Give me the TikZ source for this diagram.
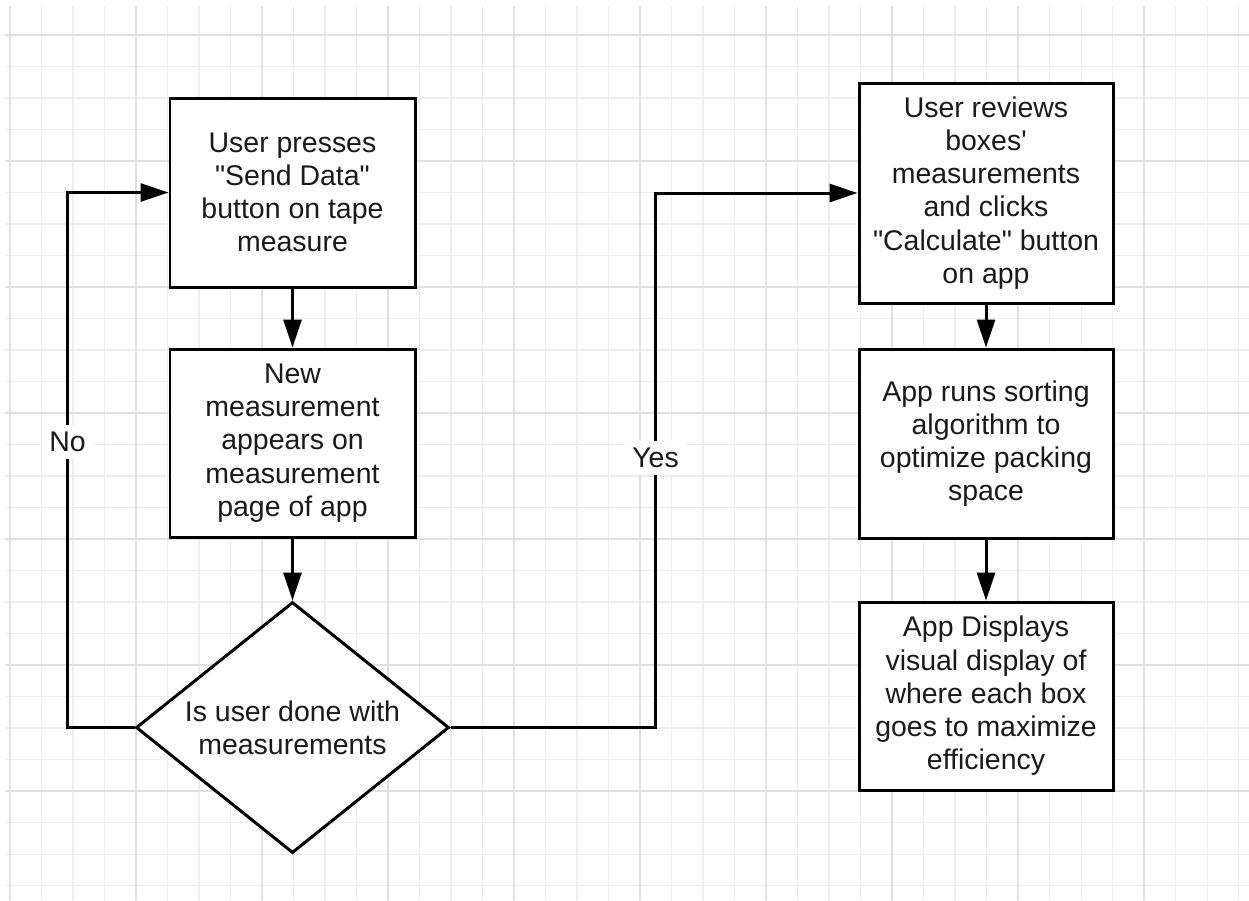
\documentclass[tikz,border=0pt]{standalone}
\usepackage{fontspec}
\setmainfont{Liberation Sans}[Ligatures=TeXOff]
\usetikzlibrary{arrows.meta, shapes.geometric, positioning}

\definecolor{gridminor}{HTML}{EDEDED}
\definecolor{gridmajor}{HTML}{E0E0E0}
\definecolor{ink}{HTML}{1A1A1A}

\begin{document}
\begin{tikzpicture}

\tikzset{process/.style = {shape=rectangle, draw, line width=1.7pt, fill=white, align=center, text=ink, font=\fontsize{16.2}{18.9}\selectfont}}
\tikzset{decision/.style = {shape=diamond, draw, line width=1.7pt, fill=white, aspect=1.25, inner sep=0pt, align=center, text=ink, font=\fontsize{16.2}{18.9}\selectfont}}
\tikzset{edge/.style = {->, > = {Triangle[length=5.6mm, width=3.6mm]}, line width=1.7pt}}
\tikzset{answer/.style = {fill=white, inner sep=4pt, text=ink, font=\fontsize{16.2}{18.9}\selectfont}}

\useasboundingbox[fill=white] (0,0) rectangle (24.98,-18);
% grid
\foreach \x in {0,...,39} \draw[gridminor, line width=0.6pt] ({0.2+0.63*\x},-0.12) -- ({0.2+0.63*\x},-18);
\foreach \y in {0,...,27} \draw[gridminor, line width=0.6pt] (0.1,{-0.7-0.63*\y}) -- (24.98,{-0.7-0.63*\y});
\foreach \x in {0,4,...,36} \draw[gridmajor, line width=0.7pt] ({0.2+0.63*\x},-0.12) -- ({0.2+0.63*\x},-18);
\foreach \y in {0,4,...,24} \draw[gridmajor, line width=0.7pt] (0.1,{-0.7-0.63*\y}) -- (24.98,{-0.7-0.63*\y});

% vertices
\node[process, minimum width=4.9cm, minimum height=3.78cm] (send) at (5.85,-3.85) {User presses\\"Send Data"\\button on tape\\measure};
\node[process, minimum width=4.9cm, minimum height=3.76cm] (newm) at (5.85,-8.86) {New\\measurement\\appears on\\measurement\\page of app};
\node[decision, minimum width=6.26cm, minimum height=5.02cm] (done) at (5.85,-14.55) {Is user done with\\measurements};
\node[process, minimum width=5.08cm, minimum height=4.4cm] (review) at (19.72,-3.86) {User reviews\\boxes'\\measurements\\and clicks\\"Calculate" button\\on app};
\node[process, minimum width=5.08cm, minimum height=3.78cm] (sortalg) at (19.72,-8.87) {App runs sorting\\algorithm to\\optimize packing\\space};
\node[process, minimum width=5.08cm, minimum height=3.76cm] (display) at (19.72,-13.92) {App Displays\\visual display of\\where each box\\goes to maximize\\efficiency};

%edges
\draw[edge] (send) -- (newm);
\draw[edge] (newm) -- (done);
\draw[edge] (done.west) -- ++(-1.34,0) |- node[answer, pos=0.267] {No} (send.west);
\draw[edge] (done.east) -- ++(4.1,0) |- node[answer, pos=0.252] {Yes} (review.west);
\draw[edge] (review) -- (sortalg);
\draw[edge] (sortalg) -- (display);
\end{tikzpicture}
\end{document}
